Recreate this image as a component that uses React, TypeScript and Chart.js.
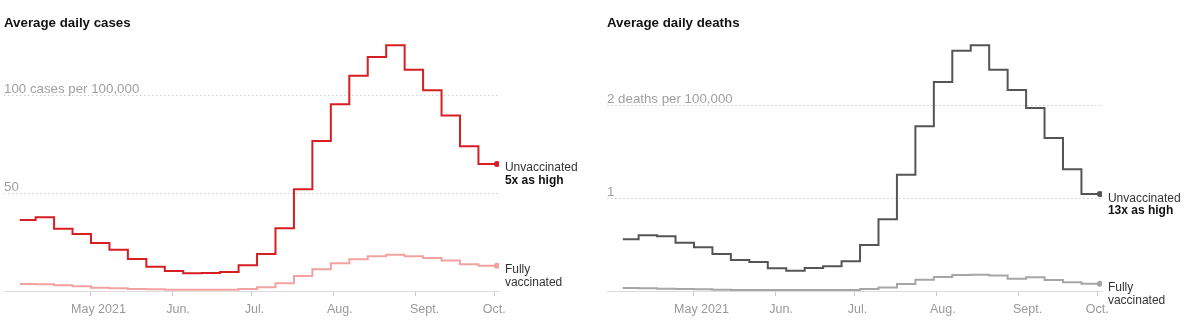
import React, { useEffect, useRef } from 'react';
import { Chart, registerables } from 'chart.js';

Chart.register(...registerables);

const FONT = '"Liberation Sans", Arial, Helvetica, sans-serif';

// Weekly periods (start date of each step), plus the date where the last step ends
const WEEK_STARTS = [
  '2021-04-04', '2021-04-10', '2021-04-17', '2021-04-24',
  '2021-05-01', '2021-05-08', '2021-05-15', '2021-05-22', '2021-05-29',
  '2021-06-05', '2021-06-12', '2021-06-19', '2021-06-26',
  '2021-07-03', '2021-07-10', '2021-07-17', '2021-07-24', '2021-07-31',
  '2021-08-07', '2021-08-14', '2021-08-21', '2021-08-28',
  '2021-09-04', '2021-09-11', '2021-09-18', '2021-09-25',
];
const END_DATE = '2021-10-02';

const MONTH_TICKS = ['2021-05-01', '2021-06-01', '2021-07-01', '2021-08-01', '2021-09-01', '2021-10-01'];
const MONTH_LABELS = ['May 2021', 'Jun.', 'Jul.', 'Aug.', 'Sept.', 'Oct.'];

// Average daily cases per 100,000
const CASES_UNVAX = [36.2, 37.6, 31.8, 29.1, 24.5, 21.1, 16.3, 12.4, 10.2, 9.0, 9.2, 9.7, 13.1, 18.9, 32.0, 51.9, 76.5, 95.3, 109.8, 119.4, 125.4, 112.9, 102.4, 89.6, 73.8, 64.8];
const CASES_VAX = [3.6, 3.4, 2.9, 2.4, 1.7, 1.4, 1.0, 0.9, 0.7, 0.7, 0.7, 0.7, 1.0, 1.9, 3.9, 7.7, 11.1, 14.1, 16.2, 17.7, 18.5, 17.7, 16.8, 15.5, 13.6, 12.9];

// Average daily deaths per 100,000
const DEATHS_UNVAX = [0.556, 0.599, 0.588, 0.519, 0.47, 0.398, 0.333, 0.312, 0.244, 0.219, 0.247, 0.265, 0.319, 0.495, 0.771, 1.251, 1.771, 2.247, 2.584, 2.642, 2.38, 2.161, 1.968, 1.645, 1.309, 1.043];
const DEATHS_VAX = [0.032, 0.029, 0.025, 0.022, 0.018, 0.014, 0.011, 0.011, 0.011, 0.011, 0.011, 0.011, 0.011, 0.022, 0.038, 0.075, 0.12, 0.151, 0.172, 0.176, 0.168, 0.133, 0.147, 0.118, 0.093, 0.079];

const CASES_GRID = [50, 100];
const CASES_GRID_LABELS = ['50', '100 cases per 100,000'];
const DEATHS_GRID = [1, 2];
const DEATHS_GRID_LABELS = ['1', '2 deaths per 100,000'];

const CASES_NOTE = ['Unvaccinated', '5x as high'];
const DEATHS_NOTE = ['Unvaccinated', '13x as high'];
const VAX_NOTE = ['Fully', 'vaccinated'];

// horizontal nudge of each month label's centre relative to its tick (style)
const LABEL_NUDGE = [7.5, 5.3, 2.7, 6.4, 9.4, 0];

function dayOf(s: string): number {
  const [y, m, d] = s.split('-').map(Number);
  return (Date.UTC(y, m - 1, d) - Date.UTC(2021, 0, 1)) / 864e5;
}

function stepPoints(values: number[]) {
  const pts = WEEK_STARTS.map((d, i) => ({ x: dayOf(d), y: values[i] }));
  pts.push({ x: dayOf(END_DATE), y: values[values.length - 1] });
  return pts;
}

const TICK_DAYS = MONTH_TICKS.map(dayOf);
const X_MIN = dayOf('2021-05-01') - 33;
const X_MAX = dayOf('2021-05-01') + 154.8;

type PanelProps = {
  left: number;
  title: string;
  unvax: number[];
  vax: number[];
  unvaxColor: string;
  vaxColor: string;
  yMax: number;
  grid: number[];
  gridLabels: string[];
  unvaxNote: string[];
  vaxNote: string[];
};

function Panel(p: PanelProps) {
  const ref = useRef<HTMLCanvasElement | null>(null);
  useEffect(() => {
    if (!ref.current) return;
    const lastIdx = WEEK_STARTS.length;
    const annot = {
      id: 'annot',
      beforeDatasetsDraw(chart: any) {
        const { ctx, chartArea, scales } = chart;
        ctx.save();
        ctx.strokeStyle = '#cfcfcf';
        ctx.lineWidth = 1;
        ctx.setLineDash([1.5, 2.5]);
        p.grid.forEach((v, i) => {
          const y = Math.round(scales.y.getPixelForValue(v)) + 0.5;
          ctx.beginPath();
          ctx.moveTo(chartArea.left, y);
          ctx.lineTo(chartArea.right, y);
          ctx.stroke();
          ctx.font = `13.3px ${FONT}`;
          ctx.fillStyle = '#a0a0a0';
          ctx.textBaseline = 'alphabetic';
          ctx.textAlign = 'left';
          ctx.fillText(p.gridLabels[i], chartArea.left, y - 3);
        });
        ctx.setLineDash([]);
        // month labels under the axis
        ctx.font = `12.5px ${FONT}`;
        ctx.fillStyle = '#999';
        ctx.textAlign = 'center';
        TICK_DAYS.forEach((d, i) => {
          const x = scales.x.getPixelForValue(d) + LABEL_NUDGE[i];
          ctx.fillText(MONTH_LABELS[i], x, chartArea.bottom + 22);
        });
        ctx.restore();
      },
      afterDatasetsDraw(chart: any) {
        const { ctx } = chart;
        ctx.save();
        ctx.textAlign = 'left';
        ctx.textBaseline = 'alphabetic';
        const notes = [p.unvaxNote, p.vaxNote];
        [0, 1].forEach((di) => {
          const pt = chart.getDatasetMeta(di).data[lastIdx];
          const x = pt.x + 8;
          const lines = notes[di];
          lines.forEach((t, li) => {
            const bold = di === 0 && li === 1;
            ctx.font = `${bold ? 'bold ' : ''}12px ${FONT}`;
            ctx.fillStyle = bold ? '#121212' : '#333';
            ctx.fillText(t, x, pt.y + 7.5 + li * 12.5);
          });
        });
        ctx.restore();
      },
    };
    const chart = new Chart(ref.current, {
      type: 'line',
      data: {
        datasets: [
          {
            data: stepPoints(p.unvax),
            borderColor: p.unvaxColor,
            backgroundColor: p.unvaxColor,
            borderWidth: 2,
            stepped: true,
            pointRadius: (c: any) => (c.dataIndex === lastIdx ? 3 : 0),
            pointBorderWidth: 0,
            fill: false,
          },
          {
            data: stepPoints(p.vax),
            borderColor: p.vaxColor,
            backgroundColor: p.vaxColor,
            borderWidth: 2,
            stepped: true,
            pointRadius: (c: any) => (c.dataIndex === lastIdx ? 3 : 0),
            pointBorderWidth: 0,
            fill: false,
          },
        ],
      },
      options: {
        animation: false,
        responsive: false,
        maintainAspectRatio: false,
        layout: { padding: { left: 4, right: 98, top: 40, bottom: 0 } },
        plugins: { legend: { display: false }, tooltip: { enabled: false }, title: { display: false } },
        scales: {
          x: {
            type: 'linear',
            min: X_MIN,
            max: X_MAX,
            afterBuildTicks: (s: any) => {
              s.ticks = TICK_DAYS.map((v) => ({ value: v }));
            },
            afterFit: (s: any) => {
              s.height = 38;
            },
            ticks: { display: false, autoSkip: false, maxRotation: 0 },
            grid: { drawOnChartArea: false, drawTicks: true, tickLength: 5, tickColor: '#c8c8c8', color: '#c8c8c8' },
            border: { display: true, color: '#dcdcdc' },
          },
          y: { display: false, min: 0, max: p.yMax },
        },
      },
      plugins: [annot],
    } as any);
    return () => chart.destroy();
  }, []);
  return (
    <div style={{ position: 'absolute', left: p.left, top: 0, width: 597, height: 329 }}>
      <canvas ref={ref} width={597} height={329} style={{ display: 'block', width: 597, height: 329 }} />
      <div
        style={{
          position: 'absolute',
          left: 4,
          top: 15,
          font: `bold 13.3px ${FONT}`,
          color: '#121212',
          lineHeight: '15px',
          whiteSpace: 'nowrap',
        }}
      >
        {p.title}
      </div>
    </div>
  );
}

export default function App() {
  return (
    <div style={{ position: 'absolute', left: 0, top: 0, width: 1200, height: 329, background: '#fff', overflow: 'hidden' }}>
      <Panel
        left={0}
        title="Average daily cases"
        unvax={CASES_UNVAX}
        vax={CASES_VAX}
        unvaxColor="#d71e22"
        vaxColor="#f2a3a1"
        yMax={128.06}
        grid={CASES_GRID}
        gridLabels={CASES_GRID_LABELS}
        unvaxNote={CASES_NOTE}
        vaxNote={VAX_NOTE}
      />
      <Panel
        left={603}
        title="Average daily deaths"
        unvax={DEATHS_UNVAX}
        vax={DEATHS_VAX}
        unvaxColor="#555555"
        vaxColor="#a6a6a6"
        yMax={2.699}
        grid={DEATHS_GRID}
        gridLabels={DEATHS_GRID_LABELS}
        unvaxNote={DEATHS_NOTE}
        vaxNote={VAX_NOTE}
      />
    </div>
  );
}
